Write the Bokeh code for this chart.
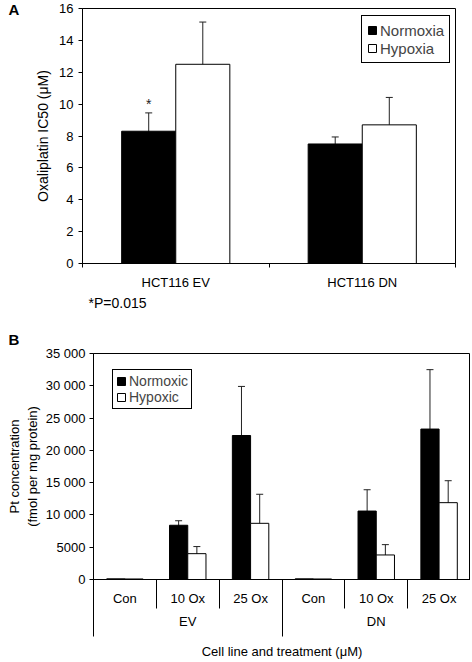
from bokeh.plotting import figure
from bokeh.models import (Range1d, FixedTicker, LinearAxis, Whisker, TeeHead, Title,
                          ColumnDataSource)
from bokeh.layouts import column
from bokeh.embed import file_html
from bokeh.resources import INLINE
from bokeh.core.properties import value

FONT = "Liberation Sans"

# ---------------- Panel A data ----------------
a_categories = ["HCT116 EV", "HCT116 DN"]
a_series = ["Normoxia", "Hypoxia"]
a_normoxia = [8.3, 7.5]
a_normoxia_err = [1.15, 0.44]
a_hypoxia = [12.5, 8.7]
a_hypoxia_err = [2.65, 1.72]
a_y_ticks = [0, 2, 4, 6, 8, 10, 12, 14, 16]
a_star_text = "*"
a_note = "*P=0.015"

# ---------------- Panel B data ----------------
b_groups = ["EV", "DN"]
b_treatments = ["Con", "10 Ox", "25 Ox"]
b_series = ["Normoxic", "Hypoxic"]
b_normoxic = [100, 8400, 22300, 100, 10600, 23300]
b_normoxic_err = [0, 700, 7600, 0, 3300, 9200]
b_hypoxic = [80, 4000, 8700, 80, 3800, 11900]
b_hypoxic_err = [0, 1100, 4500, 0, 1600, 3400]
b_y_ticks = [0, 5000, 10000, 15000, 20000, 25000, 30000, 35000]
b_y_tick_labels = ["0", "5000", "10 000", "15 000", "20 000", "25 000", "30 000", "35 000"]

BAR_W = 0.29


def style_common(p):
    p.grid.visible = False
    p.outline_line_color = "black"
    p.outline_line_width = 1
    p.outline_line_alpha = 1
    p.background_fill_color = "white"
    p.border_fill_color = "white"
    for ax in p.axis:
        ax.axis_line_color = "black"
        ax.major_tick_line_color = "black"
        ax.minor_tick_line_color = "black"
        ax.major_label_text_font = FONT
        ax.axis_label_text_font = FONT
        ax.axis_label_text_font_style = "normal"
        ax.major_label_text_color = "black"
        ax.axis_label_text_color = "black"


def add_whiskers(p, xs, tops, errs):
    base, upper, lower = [], [], []
    for x, t, e in zip(xs, tops, errs):
        if e > 0:
            base.append(x)
            upper.append(t + e)
            lower.append(t - e)
    src = ColumnDataSource(dict(base=base, upper=upper, lower=lower))
    w = Whisker(base="base", upper="upper", lower="lower", source=src,
                line_color="#222222", line_width=1,
                upper_head=TeeHead(size=7, line_color="#222222", line_width=1),
                lower_head=TeeHead(size=7, line_color="#222222", line_width=1))
    p.add_layout(w)


def style_legend(p, font_size, label_height, padding, loc):
    lg = p.legend[0]
    lg.location = loc
    lg.margin = 0
    lg.border_line_color = "black"
    lg.border_line_width = 1
    lg.border_line_alpha = 1
    lg.background_fill_alpha = 1
    lg.label_text_font = FONT
    lg.label_text_font_size = font_size
    lg.label_height = label_height
    lg.glyph_height = 10
    lg.glyph_width = 10
    lg.label_standoff = 3
    lg.spacing = 0
    lg.padding = padding


# ================= Panel A =================
nA = len(a_categories)
pA = figure(width=470, height=310, x_range=Range1d(0, nA), y_range=Range1d(0, 16),
            output_backend="svg", toolbar_location=None, frame_align=False,
            min_border_left=82, min_border_right=15, min_border_top=8, min_border_bottom=47)
pA.title = Title(text="A", align="left", offset=-74, standoff=-18, text_font=FONT,
                 text_font_size="15px", text_font_style="bold", text_color="black")
style_common(pA)

a_centers = [i + 0.5 for i in range(nA)]
a_xn = [c - BAR_W / 2 for c in a_centers]
a_xh = [c + BAR_W / 2 for c in a_centers]
pA.vbar(x=a_xn, top=a_normoxia, width=BAR_W, fill_color="black", line_color="black",
        legend_label=a_series[0])
pA.vbar(x=a_xh, top=a_hypoxia, width=BAR_W, fill_color="white", line_color="black",
        legend_label=a_series[1])
add_whiskers(pA, a_xn, a_normoxia, a_normoxia_err)
add_whiskers(pA, a_xh, a_hypoxia, a_hypoxia_err)

# significance star above EV normoxia error bar
pA.text(x=[a_xn[0]], y=[a_normoxia[0] + a_normoxia_err[0]], text=[a_star_text],
        text_align="center", text_baseline="bottom", y_offset=-1,
        text_font=value(FONT), text_font_size="14px", text_color="#222222")

xa = pA.xaxis[0]
xa.ticker = FixedTicker(ticks=a_centers, minor_ticks=list(range(nA + 1)))
xa.major_label_overrides = {c: lab for c, lab in zip(a_centers, a_categories)}
xa.major_tick_out = 0
xa.major_tick_in = 0
xa.minor_tick_out = 4
xa.minor_tick_in = 0
xa.major_label_standoff = 7
xa.major_label_text_font_size = "13px"

ya = pA.yaxis[0]
ya.ticker = FixedTicker(ticks=a_y_ticks)
ya.major_tick_out = 4
ya.major_tick_in = 0
ya.major_label_standoff = 5
ya.major_label_text_font_size = "13px"
ya.axis_label = "Oxaliplatin IC50 (\u03bcM)"
ya.axis_label_text_font_size = "14px"
ya.axis_label_standoff = 5

style_legend(pA, "15px", 18, 5, (279, 200))

pA.add_layout(Title(text=a_note, align="left", offset=6, standoff=0, text_font=FONT,
                    text_font_size="14px", text_font_style="normal", text_color="black"),
              "below")

# ================= Panel B =================
nB = len(b_groups) * len(b_treatments)
pB = figure(width=470, height=351, x_range=Range1d(0, nB), y_range=Range1d(0, 35000),
            output_backend="svg", toolbar_location=None, frame_align=False,
            min_border_left=93, min_border_right=0, min_border_top=43, min_border_bottom=82)
pB.title = Title(text="B", align="left", offset=-85, standoff=12, text_font=FONT,
                 text_font_size="15px", text_font_style="bold", text_color="black")

b_centers = [i + 0.5 for i in range(nB)]
b_xn = [c - BAR_W / 2 for c in b_centers]
b_xh = [c + BAR_W / 2 for c in b_centers]
pB.vbar(x=b_xn, top=b_normoxic, width=BAR_W, fill_color="black", line_color="black",
        legend_label=b_series[0])
pB.vbar(x=b_xh, top=b_hypoxic, width=BAR_W, fill_color="white", line_color="black",
        legend_label=b_series[1])
add_whiskers(pB, b_xn, b_normoxic, b_normoxic_err)
add_whiskers(pB, b_xh, b_hypoxic, b_hypoxic_err)

nT = len(b_treatments)
group_centers = [g * nT + nT / 2 for g in range(len(b_groups))]
group_edges = [g * nT for g in range(len(b_groups) + 1)]
treat_labels = [t for g in b_groups for t in b_treatments]

# second axis (group level), stacked below the treatment axis
gax = LinearAxis(ticker=FixedTicker(ticks=group_centers, minor_ticks=group_edges),
                 major_label_overrides={c: g for c, g in zip(group_centers, b_groups)})
pB.add_layout(gax, "below")
style_common(pB)

xb = pB.xaxis[0]
xb.ticker = FixedTicker(ticks=b_centers, minor_ticks=list(range(nB + 1)))
xb.major_label_overrides = {c: lab for c, lab in zip(b_centers, treat_labels)}
xb.major_tick_out = 0
xb.major_tick_in = 0
xb.minor_tick_out = 29
xb.minor_tick_in = 0
xb.major_label_standoff = -18
xb.major_label_text_font_size = "13px"

gax.axis_line_color = None
gax.major_tick_out = 0
gax.major_tick_in = 0
gax.minor_tick_out = 28
gax.minor_tick_in = 4
gax.major_label_standoff = -23
gax.major_label_text_font_size = "13px"
gax.axis_label = "Cell line and treatment (\u03bcM)"
gax.axis_label_text_font_size = "13px"
gax.axis_label_standoff = 12

yb = pB.yaxis[0]
yb.ticker = FixedTicker(ticks=b_y_ticks)
yb.major_label_overrides = {t: lab for t, lab in zip(b_y_ticks, b_y_tick_labels)}
yb.major_tick_out = 4
yb.major_tick_in = 0
yb.major_label_standoff = 4
yb.major_label_text_font_size = "13px"
yb.axis_label = "Pt concentration\n(fmol per mg protein)"
yb.axis_label_text_font_size = "13px"
yb.axis_label_standoff = 3

style_legend(pB, "14px", 15, 3, (19, 170))

layout = column(pA, pB, spacing=0)
open("out.html", "w").write(file_html(layout, INLINE))
